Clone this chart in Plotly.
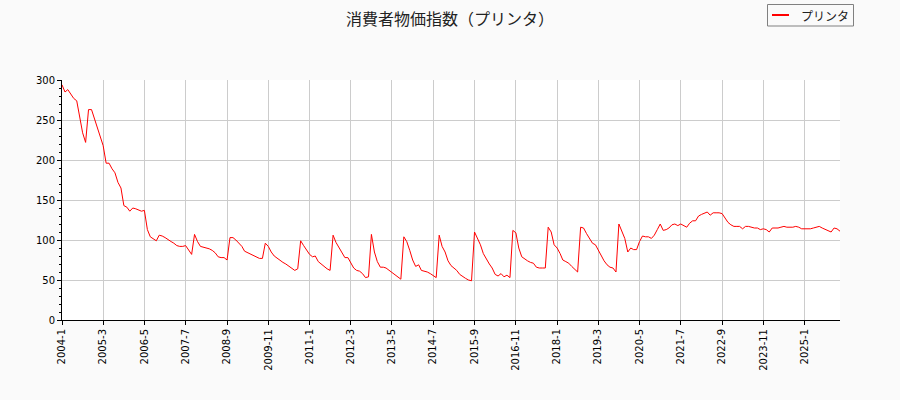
import pandas as pd
import plotly.graph_objects as go

# monthly CPI for printers, 2004-1 .. 2026-1
months = pd.date_range("2004-01-01", "2026-01-01", freq="MS")
cpi = [
    294, 285, 288, 283, 277, 274, 255, 234, 222, 263, 263, 252,  # 2004
    241, 230, 218, 196, 196, 189, 184, 172, 165, 143, 141, 136,  # 2005
    140, 139, 138, 136, 137, 113, 104, 102, 99, 106, 105, 103,   # 2006
    101, 98, 96, 93, 92, 92, 93, 88, 82, 107, 98, 92,            # 2007
    91, 90, 89, 87, 84, 79, 78, 78, 75, 103, 103, 100,           # 2008
    96, 92, 86, 84, 82, 80, 78, 77, 77, 96, 92, 85,              # 2009
    80, 77, 74, 72, 70, 67, 64, 62, 64, 99, 93, 87,              # 2010
    82, 79, 80, 73, 70, 67, 64, 62, 106, 97, 90, 84,             # 2011
    78, 78, 71, 65, 62, 61, 58, 53, 54, 107, 85, 73,             # 2012
    66, 66, 65, 62, 60, 57, 54, 51, 104, 98, 87, 75,             # 2013
    67, 69, 62, 61, 60, 58, 55, 53, 106, 92, 85, 74,             # 2014
    68, 65, 62, 57, 54, 52, 50, 49, 110, 102, 94, 83,            # 2015
    76, 70, 65, 57, 55, 58, 54, 56, 53, 112, 109, 90,            # 2016
    79, 76, 74, 72, 71, 66, 65, 65, 65, 116, 110, 94,            # 2017
    90, 83, 75, 73, 71, 67, 63, 60, 116, 115, 108, 102,          # 2018
    96, 94, 88, 80, 74, 69, 66, 65, 60, 120, 110, 102,           # 2019
    85, 90, 88, 88, 98, 105, 104, 104, 102, 106, 113, 120,       # 2020
    112, 113, 115, 119, 120, 118, 120, 118, 116, 121, 124, 124,  # 2021
    130, 132, 133, 135, 131, 134, 134, 134, 133, 127, 122, 119,  # 2022
    117, 117, 117, 114, 117, 117, 116, 115, 115, 113, 114, 113,  # 2023
    110, 115, 115, 115, 116, 117, 116, 116, 116, 117, 116, 114,  # 2024
    114, 114, 114, 115, 116, 117, 115, 113, 111, 110, 115, 114,  # 2025
    111,                                                         # 2026
]

tick_labels = ["2004-1", "2005-3", "2006-5", "2007-7", "2008-9", "2009-11",
               "2011-1", "2012-3", "2013-5", "2014-7", "2015-9", "2016-11",
               "2018-1", "2019-3", "2020-5", "2021-7", "2022-9", "2023-11",
               "2025-1"]
tick_vals = [pd.Timestamp(t + "-1") for t in tick_labels]

jp = "Noto Sans CJK JP"
tick_font = dict(family="DejaVu Sans", size=10, color="black")

# plot area in pixels, used to place the hand-made legend box
L, R, T, B = 62, 840, 80, 320


def px(x):
    return (x - L) / (R - L)


def py(y):
    return (B - y) / (B - T)


fig = go.Figure()
fig.add_trace(go.Scatter(x=months, y=cpi, mode="lines", name="プリンタ",
                         line=dict(color="red", width=1), showlegend=False))

fig.update_layout(
    width=900, height=400,
    margin=dict(l=L, r=900 - R, t=T, b=400 - B),
    paper_bgcolor="#fafafa", plot_bgcolor="white",
    title=dict(text="消費者物価指数（プリンタ）", x=0.5, xanchor="center",
               y=1 - 19 / 400, yanchor="middle",
               font=dict(family=jp, size=16, color="#222")),
)

# legend drawn by hand so the box matches the small matplotlib-style one
fig.add_shape(type="rect", xref="paper", yref="paper",
              x0=px(767.5), x1=px(853.5), y0=py(26), y1=py(4.5),
              line=dict(color="#808080", width=1), fillcolor="#fafafa")
fig.add_shape(type="line", xref="paper", yref="paper",
              x0=px(772), x1=px(789), y0=py(15), y1=py(15),
              line=dict(color="red", width=2))
fig.add_annotation(xref="paper", yref="paper", x=px(799), y=py(15.5),
                   xanchor="left", yanchor="middle", showarrow=False,
                   text=fig.data[0].name, font=dict(family=jp, size=12, color="#222"))

fig.update_xaxes(
    range=[months[0], months[-1]],
    tickvals=tick_vals, ticktext=tick_labels, tickangle=-90,
    tickfont=tick_font, ticks="outside", ticklen=4, tickcolor="black",
    showgrid=True, gridcolor="#cccccc", gridwidth=1,
    showline=True, linecolor="black", linewidth=1, zeroline=False,
)
fig.update_yaxes(
    range=[0, 300], dtick=50, tickfont=tick_font,
    ticks="outside", ticklen=4, tickcolor="black",
    minor=dict(dtick=10, ticks="outside", ticklen=2, tickcolor="black", showgrid=False),
    showgrid=True, gridcolor="#cccccc", gridwidth=1,
    showline=True, linecolor="black", linewidth=1, zeroline=False,
)

fig.write_html("out.html", config={"displayModeBar": False},
               post_script="document.body.style.margin='0';")
